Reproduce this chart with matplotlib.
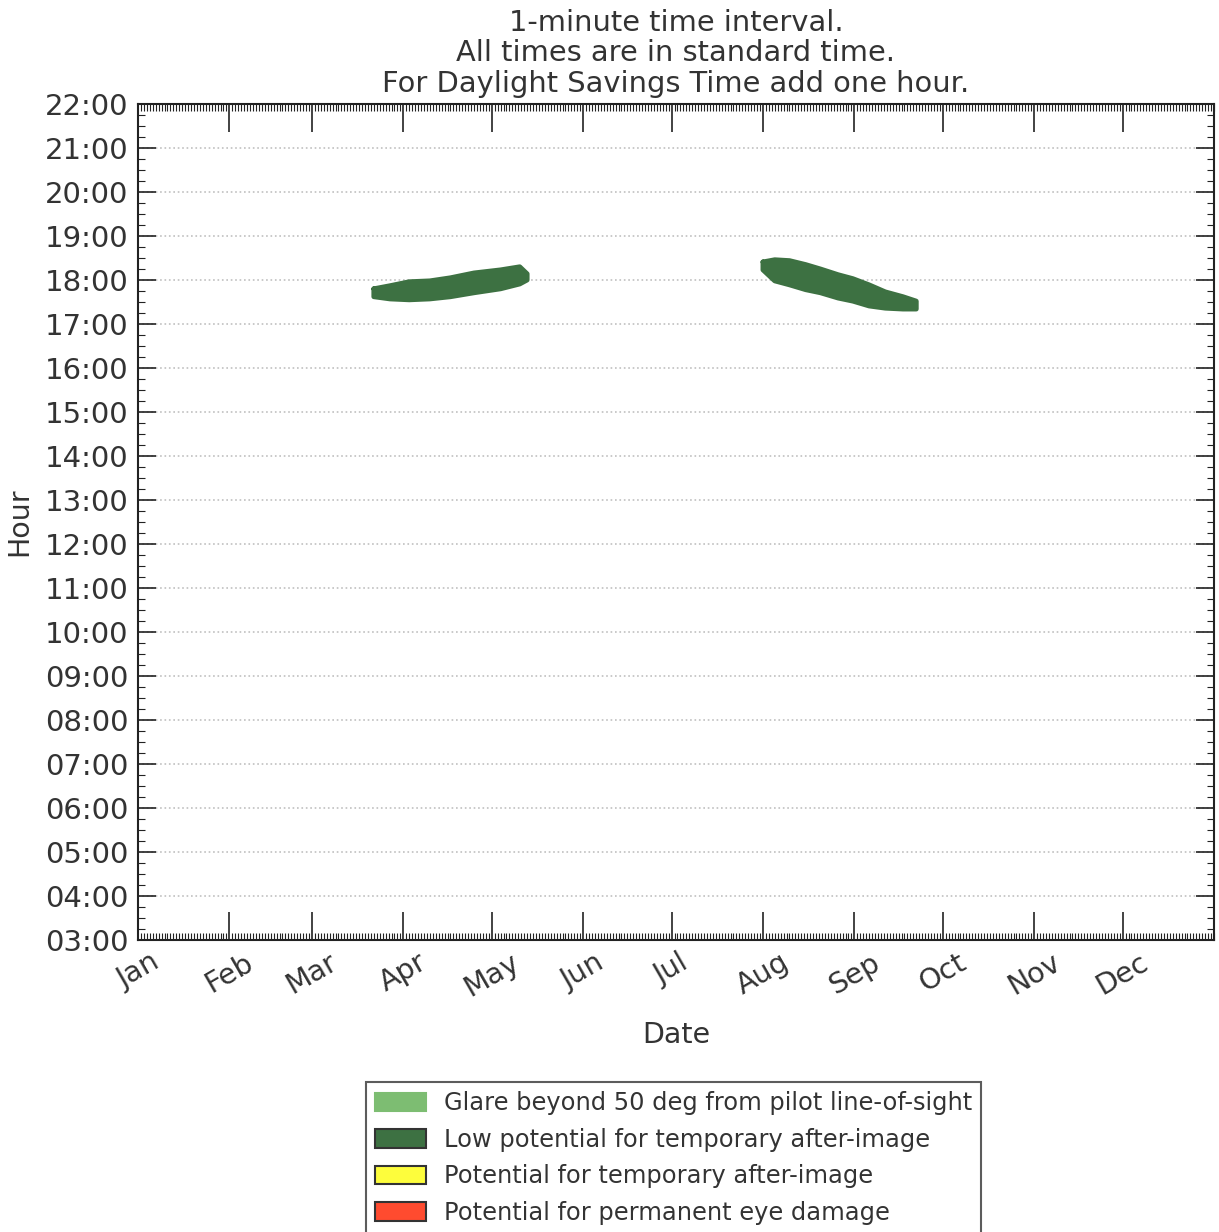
import matplotlib
matplotlib.use("Agg")
import matplotlib.pyplot as plt
from matplotlib.patches import Patch
from matplotlib.ticker import FixedLocator, MultipleLocator, FuncFormatter

# Month start positions (day of year) and labels
month_starts = [0, 31, 59, 90, 120, 151, 181, 212, 243, 273, 304, 334]
month_labels = ["Jan", "Feb", "Mar", "Apr", "May", "Jun",
                "Jul", "Aug", "Sep", "Oct", "Nov", "Dec"]

# Spring glare window: day of year, earliest and latest glare time (hours)
spring_day = [80, 85.5, 92, 99, 106, 114, 123, 129.5, 132]
spring_first = [17.62, 17.57, 17.55, 17.57, 17.62, 17.71, 17.80, 17.91, 18.00]
spring_last = [17.80, 17.87, 17.96, 17.98, 18.05, 18.16, 18.23, 18.30, 18.14]

# Late-summer glare window
fall_day = [212, 216, 221, 226.5, 231.5, 237.5, 242.5, 248, 253.5, 259.5, 264]
fall_first = [18.23, 17.98, 17.89, 17.78, 17.71, 17.59, 17.52, 17.41, 17.36, 17.34, 17.34]
fall_last = [18.41, 18.46, 18.44, 18.35, 18.25, 18.12, 18.03, 17.89, 17.73, 17.62, 17.52]

legend_labels = ["Glare beyond 50 deg from pilot line-of-sight",
                 "Low potential for temporary after-image",
                 "Potential for temporary after-image",
                 "Potential for permanent eye damage"]
legend_colors = ["#7dbd72", "#3d7142", "#fdfd3c", "#ff4b2f"]

title_lines = ["1-minute time interval.",
               "All times are in standard time.",
               "For Daylight Savings Time add one hour."]

text_color = "#333333"
plt.rcParams["font.family"] = ["DejaVu Sans"]
plt.rcParams["text.color"] = text_color
plt.rcParams["axes.labelcolor"] = text_color
plt.rcParams["xtick.color"] = "#222222"
plt.rcParams["ytick.color"] = "#222222"
plt.rcParams["xtick.labelcolor"] = text_color
plt.rcParams["ytick.labelcolor"] = text_color

fig = plt.figure(figsize=(12.19, 12.32), dpi=100)
ax = fig.add_axes([138 / 1219, 1 - 940 / 1232, (1214 - 138) / 1219, (940 - 104) / 1232])

glare = legend_colors[1]
for days, lo, hi in [(spring_day, spring_first, spring_last),
                     (fall_day, fall_first, fall_last)]:
    ax.fill_between(days, lo, hi, color=glare, lw=0, zorder=3)
    # outline to give the rounded edge of the point cloud
    xs = list(days) + list(days[::-1]) + [days[0]]
    ys = list(hi) + list(lo[::-1]) + [hi[0]]
    ax.plot(xs, ys, color=glare, lw=3.5, solid_joinstyle="round",
            solid_capstyle="round", zorder=3)

ax.set_xlim(0, 365)
ax.set_ylim(3, 22)

ax.xaxis.set_major_locator(FixedLocator(month_starts))
ax.set_xticklabels(month_labels, rotation=30, fontsize=20.5)
ax.xaxis.set_minor_locator(MultipleLocator(1))
ax.yaxis.set_major_locator(MultipleLocator(1))
ax.yaxis.set_minor_locator(MultipleLocator(0.25))
ax.yaxis.set_major_formatter(FuncFormatter(lambda v, p: f"{int(round(v)):02d}:00"))
ax.tick_params(axis="y", labelsize=21, pad=7)
ax.tick_params(axis="x", pad=6)

ax.tick_params(axis="x", which="major", direction="in", top=True,
               length=20, width=1.2)
ax.tick_params(axis="y", which="major", direction="in", right=True,
               length=13, width=1.2)
ax.tick_params(which="minor", direction="in", top=True, right=True,
               length=5, width=0.8)

ax.grid(axis="y", which="major", linestyle=":", color="#c0c0c0", lw=1.2)
ax.set_axisbelow(True)
for s in ax.spines.values():
    s.set_linewidth(1.5)
    s.set_color("#222222")

ax.set_xlabel("Date", fontsize=20.5, labelpad=14)
ax.set_ylabel("Hour", fontsize=20.5, labelpad=8)
ax.set_title("\n".join(title_lines), fontsize=20.8, linespacing=1.1, pad=9)

handles = [Patch(facecolor=c, edgecolor="#333333" if i else c, lw=1.5)
           for i, c in enumerate(legend_colors)]
leg = fig.legend(handles, legend_labels, loc="upper left",
                 bbox_to_anchor=(366 / 1219, 1 - 1082 / 1232),
                 fontsize=17.4, frameon=True, fancybox=False,
                 handlelength=2.1, handleheight=0.8, handletextpad=0.75,
                 labelspacing=0.52, borderpad=0.38, borderaxespad=0)
leg.get_frame().set_edgecolor("#333333")
leg.get_frame().set_linewidth(1.5)

fig.savefig("out.png", dpi=100)
